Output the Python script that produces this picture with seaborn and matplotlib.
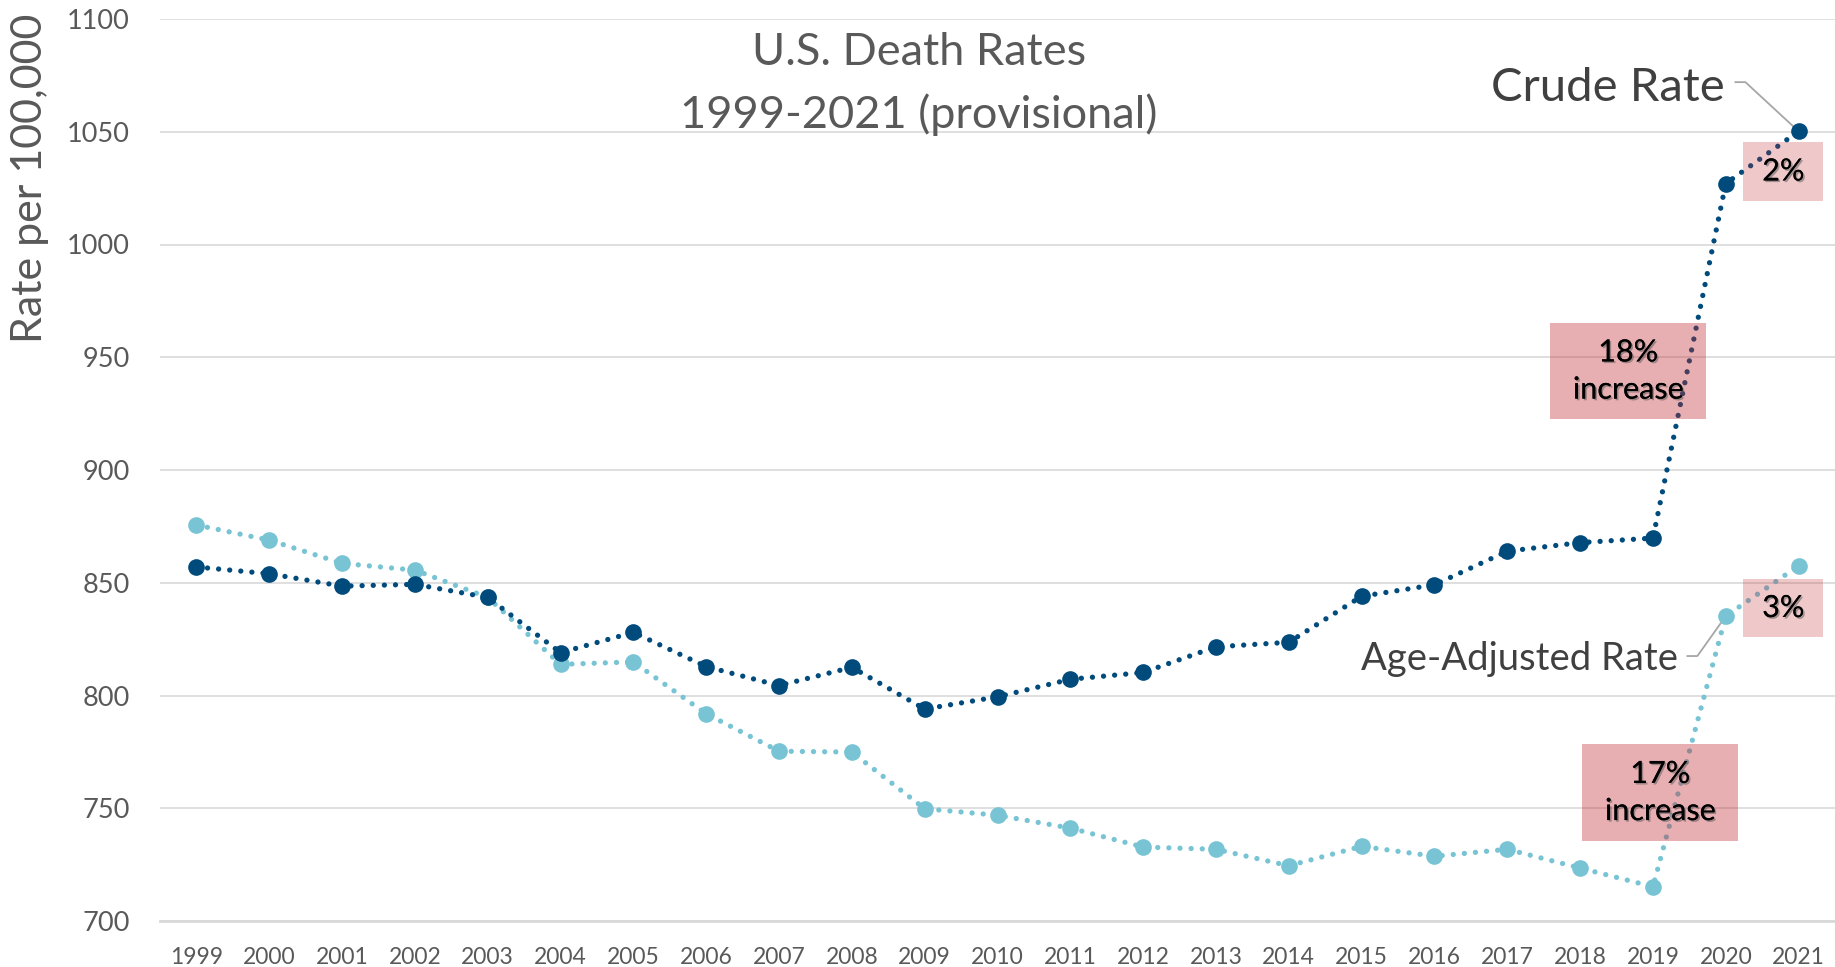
import matplotlib
matplotlib.use("Agg")
import matplotlib.pyplot as plt
import matplotlib.patheffects as pe
from matplotlib.patches import Rectangle
import seaborn as sns

# U.S. death rates per 100,000
years = list(range(1999, 2022))
crude_rate = [857.0, 854.0, 848.5, 849.3, 843.5, 819.0, 828.0, 812.8, 804.4, 812.5,
              794.0, 799.4, 807.2, 810.2, 821.6, 823.6, 844.0, 849.1, 864.0, 867.8,
              869.8, 1027.0, 1050.2]
age_adjusted_rate = [875.6, 868.9, 858.6, 855.6, 843.5, 813.8, 814.9, 791.9, 775.3, 774.9,
                     749.8, 746.9, 741.2, 732.8, 731.8, 724.5, 733.1, 728.7, 731.8, 723.5,
                     715.2, 835.2, 857.5]
y_ticks = [700, 750, 800, 850, 900, 950, 1000, 1050, 1100]

# pink call-out boxes: (x0, x1, y0, y1, text, alpha)
callouts = [
    (2020.24, 2021.34, 1019.3, 1045.5, "2%", 0.25),
    (2017.59, 2019.73, 922.6, 965.2, "18%\nincrease", 0.37),
    (2020.24, 2021.34, 825.9, 851.7, "3%", 0.25),
    (2018.03, 2020.17, 735.5, 778.5, "17%\nincrease", 0.37),
]

CRUDE = "#004B7C"
AGE = "#78C4D4"
GREY = "#595959"

sns.set_theme(style="white")
plt.rcParams['font.family'] = ['Lato', 'DejaVu Sans']

fig = plt.figure(figsize=(18.35, 9.67), dpi=100)
ax = fig.add_axes([160 / 1835, 46 / 967, 1 - 160 / 1835, 902 / 967])

dotted = (0, (0.01, 2.1))
for vals, col in [(age_adjusted_rate, AGE), (crude_rate, CRUDE)]:
    sns.lineplot(x=years, y=vals, ax=ax, color=col, linewidth=3.8,
                 linestyle=dotted, dash_capstyle="round",
                 marker="o", markersize=12, markeredgewidth=0, zorder=3)

ax.set_xlim(1998.5, 2021.5)
ax.set_ylim(700, 1100)
ax.set_xticks(years)
ax.set_yticks(y_ticks)
ax.set_xticklabels([str(y) for y in years], fontsize=16.5, color=GREY)
ax.set_yticklabels([str(t) for t in y_ticks], fontsize=19.5, color=GREY)
ax.tick_params(axis="x", length=0, pad=19)
ax.tick_params(axis="y", length=0, pad=22)
ax.grid(axis="y", color="#D9D9D9", linewidth=1.2)
for s in ["top", "right", "left"]:
    ax.spines[s].set_visible(False)
ax.spines["bottom"].set_color("#D9D9D9")
ax.spines["bottom"].set_linewidth(2)
ax.set_xlabel("")
ax.set_ylabel("")

# call-out boxes
shadow = [pe.withSimplePatchShadow(offset=(1.2, -1.2), shadow_rgbFace="#555555", alpha=0.5),
          pe.Normal()]
for x0, x1, y0, y1, txt, a in callouts:
    ax.add_patch(Rectangle((x0, y0), x1 - x0, y1 - y0, facecolor="#C0282F",
                           edgecolor="none", alpha=a, zorder=4))
    ax.text((x0 + x1) / 2, (y0 + y1) / 2, txt, ha="center", va="center",
            fontsize=22, color="black", linespacing=1.4, zorder=5,
            path_effects=shadow)

# series labels with leader lines
ax.text(2019.98, 1069.5, "Crude Rate", ha="right", va="center", fontsize=34,
        color="#404040", zorder=5)
ax.plot([2020.13, 2020.27, years[-1]], [1072, 1072, crude_rate[-1]],
        color="#A6A6A6", linewidth=1.3, zorder=2)
ax.text(2019.34, 816, "Age-Adjusted Rate", ha="right", va="center", fontsize=27.5,
        color="#404040", zorder=5)
ax.plot([2019.47, 2019.61, years[-2]], [817.5, 817.5, age_adjusted_rate[-2]],
        color="#A6A6A6", linewidth=1.3, zorder=2)

fig.text(919 / 1835, 1 - 84 / 967, "U.S. Death Rates\n1999-2021 (provisional)",
         ha="center", va="center", fontsize=32.5, color=GREY, linespacing=1.6)
fig.text(30 / 1835, 1 - 178 / 967, "Rate per 100,000", rotation=90, ha="center",
         va="center", fontsize=31, color=GREY)

fig.savefig("out.png", dpi=100)
